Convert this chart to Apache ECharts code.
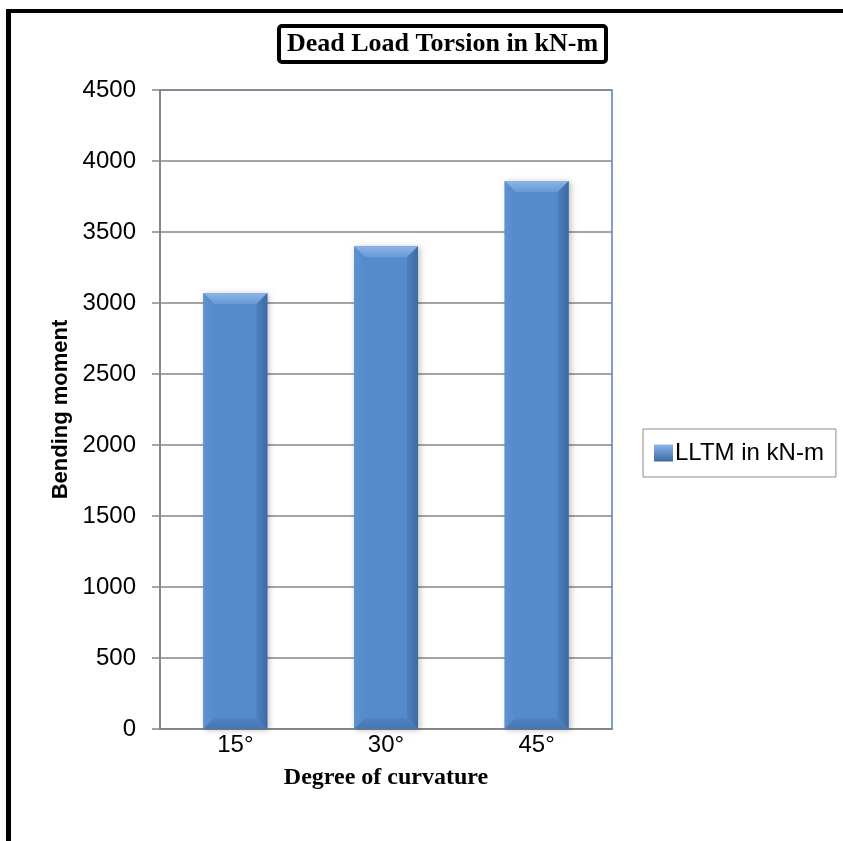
<!DOCTYPE html>
<html>
<head>
<meta charset="utf-8">
<title>Dead Load Torsion in kN-m</title>
<script src="https://cdn.jsdelivr.net/npm/echarts@6/dist/echarts.min.js"></script>
<style>
  html, body { margin: 0; padding: 0; background: #ffffff; }
  #chart { width: 843px; height: 841px; }
</style>
</head>
<body>
<div id="chart"></div>
<script>
// Chart content
const chartTitle = 'Dead Load Torsion in kN-m';
const categories = ['15°', '30°', '45°'];
const seriesName = 'LLTM in kN-m';
const torsionValues = [3070, 3400, 3860];
const yTicks = [0, 500, 1000, 1500, 2000, 2500, 3000, 3500, 4000, 4500];
const xAxisTitle = 'Degree of curvature';
const yAxisTitle = 'Bending moment';

const BAR_MAIN = '#558acb';
const BAR_LIGHT = '#8ab5e8';
const BAR_DARK = '#3e6aa3';

const chart = echarts.init(document.getElementById('chart'), null, { renderer: 'canvas' });

// Bevelled bar: flat face plus four shaded edges
function renderBevelBar(params, api) {
  const idx = api.value(0);
  const val = api.value(1);
  const top = api.coord([idx, val]);
  const base = api.coord([idx, 0]);
  const bw = api.size([1, 0])[0] * 0.425;
  const x0 = top[0] - bw / 2, x1 = top[0] + bw / 2;
  const y0 = top[1], y1 = base[1];
  const b = 11;
  return {
    type: 'group',
    children: [
      { type: 'rect', shape: { x: x0, y: y0, width: bw, height: y1 - y0 },
        style: { fill: BAR_MAIN, shadowBlur: 6, shadowOffsetX: 2, shadowOffsetY: 1, shadowColor: 'rgba(0,0,0,0.25)' } },
      { type: 'polygon', shape: { points: [[x0, y0], [x1, y0], [x1 - b, y0 + b], [x0 + b, y0 + b]] },
        style: { fill: new echarts.graphic.LinearGradient(0, 0, 0, 1, [
          { offset: 0, color: BAR_LIGHT }, { offset: 1, color: '#689ad6' }]) } },
      { type: 'polygon', shape: { points: [[x1, y0], [x1, y1], [x1 - b, y1 - b], [x1 - b, y0 + b]] },
        style: { fill: new echarts.graphic.LinearGradient(0, 0, 1, 0, [
          { offset: 0, color: '#4d7fbf' }, { offset: 1, color: BAR_DARK }]) } },
      { type: 'polygon', shape: { points: [[x0, y0], [x0 + b, y0 + b], [x0 + b, y1 - b], [x0, y1]] },
        style: { fill: new echarts.graphic.LinearGradient(0, 0, 1, 0, [
          { offset: 0, color: '#5e92d0' }, { offset: 1, color: BAR_MAIN }]) } },
      { type: 'polygon', shape: { points: [[x0, y1], [x0 + b, y1 - b], [x1 - b, y1 - b], [x1, y1]] },
        style: { fill: new echarts.graphic.LinearGradient(0, 0, 0, 1, [
          { offset: 0, color: '#5084c4' }, { offset: 1, color: '#4675b2' }]) } }
    ]
  };
}

const option = {
  backgroundColor: '#ffffff',
  animation: false,
  title: {
    text: chartTitle,
    left: 279,
    top: 26,
    padding: [5, 8, 5, 8],
    borderColor: '#000000',
    borderWidth: 4,
    borderRadius: 3,
    textStyle: { fontFamily: 'Liberation Serif', fontWeight: 'bold', fontSize: 26, color: '#000000' }
  },
  legend: {
    left: 643,
    top: 429,
    orient: 'vertical',
    padding: [12, 12, 12, 11],
    borderColor: '#8c8c8c',
    borderWidth: 1,
    borderRadius: 0,
    itemWidth: 19,
    itemHeight: 17,
    itemGap: 0,
    textStyle: { fontFamily: 'Liberation Sans', fontSize: 24, color: '#000000', padding: [0, 0, 0, -3] },
    data: [{
      name: seriesName,
      icon: 'rect',
      itemStyle: {
        color: new echarts.graphic.LinearGradient(0, 0, 0, 1, [
          { offset: 0, color: BAR_LIGHT }, { offset: 1, color: BAR_DARK }])
      }
    }]
  },
  grid: {
    left: 160,
    right: 231,
    top: 90,
    bottom: 112,
    show: true,
    borderColor: '#4f81bd',
    borderWidth: 1.5,
    backgroundColor: 'transparent'
  },
  xAxis: {
    type: 'category',
    data: categories,
    name: xAxisTitle,
    nameLocation: 'middle',
    nameGap: 37,
    nameTextStyle: { fontFamily: 'Liberation Serif', fontWeight: 'bold', fontSize: 24, color: '#000000' },
    axisLine: { show: true, lineStyle: { color: '#868686', width: 2 } },
    axisTick: { show: false },
    axisLabel: { fontFamily: 'Liberation Sans', fontSize: 24, color: '#000000', margin: 4 },
    splitLine: { show: false }
  },
  yAxis: {
    type: 'value',
    min: yTicks[0],
    max: yTicks[yTicks.length - 1],
    interval: yTicks[1] - yTicks[0],
    name: yAxisTitle,
    nameLocation: 'middle',
    nameGap: 88,
    nameRotate: 90,
    nameTextStyle: { fontFamily: 'Liberation Sans', fontWeight: 'bold', fontSize: 22, color: '#000000' },
    axisLine: { show: true, lineStyle: { color: '#868686', width: 2 } },
    axisTick: { show: true, length: 8, lineStyle: { color: '#868686', width: 1.5 } },
    axisLabel: { fontFamily: 'Liberation Sans', fontSize: 24, color: '#000000', margin: 24,
      formatter: (v) => String(v) },
    splitLine: { show: true, lineStyle: { color: '#868686', width: 1.5 } }
  },
  graphic: [
    { type: 'rect', left: 6, top: 9, shape: { width: 5, height: 840 }, style: { fill: '#000000' }, z: 100 },
    { type: 'rect', left: 6, top: 9, shape: { width: 840, height: 4 }, style: { fill: '#000000' }, z: 100 }
  ],
  series: [{
    name: seriesName,
    type: 'custom',
    renderItem: renderBevelBar,
    encode: { x: 0, y: 1 },
    data: torsionValues.map((v, i) => [i, v]),
    itemStyle: { color: BAR_MAIN },
    z: 3
  }]
};

chart.setOption(option);
</script>
</body>
</html>
